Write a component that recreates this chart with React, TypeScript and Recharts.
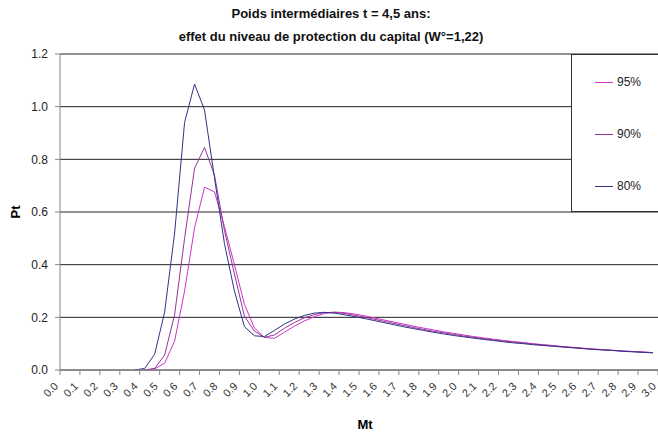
import { CartesianGrid, Label, Legend, Line, LineChart, XAxis, YAxis } from "recharts";

// Mt values of the sampled points
const mt = [
  0.375, 0.425, 0.475, 0.525, 0.575, 0.625, 0.675, 0.725, 0.775, 0.825,
  0.875, 0.925, 0.975, 1.025, 1.075, 1.125, 1.175, 1.225, 1.275, 1.325,
  1.375, 1.425, 1.475, 1.525, 1.575, 1.625, 1.675, 1.725, 1.775, 1.825,
  1.875, 1.925, 1.975, 2.025, 2.075, 2.125, 2.175, 2.225, 2.275, 2.325,
  2.375, 2.425, 2.475, 2.525, 2.575, 2.625, 2.675, 2.725, 2.775, 2.825,
  2.875, 2.925, 2.975,
];

const p80 = [
  0, 0.006, 0.06, 0.22, 0.52, 0.94, 1.086, 0.987, 0.73, 0.48,
  0.3, 0.165, 0.13, 0.127, 0.15, 0.174, 0.193, 0.207, 0.216, 0.219,
  0.216, 0.21, 0.203, 0.196, 0.188, 0.18, 0.172, 0.164, 0.157, 0.15,
  0.143, 0.137, 0.131, 0.126, 0.121, 0.116, 0.112, 0.107, 0.103, 0.1,
  0.096, 0.093, 0.09, 0.087, 0.084, 0.081, 0.078, 0.076, 0.074, 0.071,
  0.069, 0.067, 0.065,
];

const p90 = [
  null, 0, 0.006, 0.057, 0.21, 0.5, 0.766, 0.845, 0.74, 0.53,
  0.365, 0.205, 0.148, 0.124, 0.133, 0.158, 0.18, 0.198, 0.21, 0.218,
  0.219, 0.215, 0.208, 0.201, 0.193, 0.185, 0.177, 0.169, 0.161, 0.154,
  0.147, 0.141, 0.135, 0.129, 0.124, 0.119, 0.114, 0.11, 0.106, 0.102,
  0.098, 0.095, 0.091, 0.088, 0.085, 0.082, 0.079, 0.077, 0.074, 0.072,
  0.07, 0.068, 0.066,
];

const p95 = [
  null, 0, 0.004, 0.026, 0.11, 0.3, 0.54, 0.694, 0.677, 0.545,
  0.4, 0.25, 0.16, 0.124, 0.12, 0.143, 0.166, 0.186, 0.202, 0.214,
  0.22, 0.218, 0.213, 0.206, 0.198, 0.19, 0.182, 0.174, 0.166, 0.159,
  0.152, 0.145, 0.139, 0.133, 0.127, 0.122, 0.117, 0.112, 0.108, 0.104,
  0.1, 0.096, 0.093, 0.089, 0.086, 0.083, 0.08, 0.077, 0.075, 0.072,
  0.07, 0.068, 0.066,
];

const xTicks = [
  0, 0.1, 0.2, 0.3, 0.4, 0.5, 0.6, 0.7, 0.8, 0.9, 1, 1.1, 1.2, 1.3, 1.4, 1.5,
  1.6, 1.7, 1.8, 1.9, 2, 2.1, 2.2, 2.3, 2.4, 2.5, 2.6, 2.7, 2.8, 2.9, 3,
];
const yTicks = [0, 0.2, 0.4, 0.6, 0.8, 1, 1.2];

const series = [
  { key: "p95", name: "95%", color: "#CC33CC" },
  { key: "p90", name: "90%", color: "#993399" },
  { key: "p80", name: "80%", color: "#333388" },
];

const data = mt.map((x, i) => ({ x, p80: p80[i], p90: p90[i], p95: p95[i] }));

const FONT = "Arial, 'Liberation Sans', sans-serif";

const XTick = ({ x, y, payload }: any) => (
  <g transform={`translate(${x - 4},${y + 3})`}>
    <text
      x={0}
      y={0}
      dy={4}
      textAnchor="end"
      transform="rotate(-45)"
      fontSize={11}
      fontFamily={FONT}
      fill="#333"
    >
      {payload.value.toFixed(1)}
    </text>
  </g>
);

const renderLegend = () => (
  <div
    style={{
      width: 87,
      height: 158,
      boxSizing: "border-box",
      border: "1px solid #333",
      borderRight: "none",
      background: "#fff",
      position: "relative",
    }}
  >
    {series.map((s, i) => (
      <div
        key={s.key}
        style={{
          position: "absolute",
          left: 23,
          top: 20 + i * 52,
          display: "flex",
          alignItems: "center",
          fontSize: 12,
          fontFamily: FONT,
          color: "#222",
        }}
      >
        <span
          style={{ display: "inline-block", width: 18, height: 1, background: s.color, marginRight: 4 }}
        />
        {s.name}
      </div>
    ))}
  </div>
);

const App = () => {
  return (
    <div style={{ position: "absolute", left: 0, top: 0, width: 658, height: 436, background: "#fff" }}>
      <div
        style={{
          position: "absolute",
          top: 2,
          left: 0,
          width: 662,
          textAlign: "center",
          fontFamily: FONT,
          fontWeight: "bold",
          fontSize: 13,
          lineHeight: "23px",
          color: "#111",
        }}
      >
        Poids intermédiaires t = 4,5 ans:
        <br />
        effet du niveau de protection du capital (W°=1,22)
      </div>
      <LineChart
        width={658}
        height={436}
        data={data}
        margin={{ top: 54, right: 0, bottom: 0, left: 0 }}
      >
        <CartesianGrid vertical={false} stroke="#222" />
        <XAxis
          type="number"
          dataKey="x"
          domain={[0, 3]}
          ticks={xTicks}
          interval={0}
          height={66}
          tick={<XTick />}
          tickSize={5}
          tickMargin={6}
          stroke="#888"
        >
          <Label
            content={() => (
              <text x={365} y={424} textAnchor="middle" dominantBaseline="central" fontFamily={FONT} fontWeight="bold" fontSize={13}>
                Mt
              </text>
            )}
          />
        </XAxis>
        <YAxis
          domain={[0, 1.2]}
          ticks={yTicks}
          width={60}
          tickSize={5}
          tickMargin={7}
          stroke="#888"
          tickFormatter={(v: number) => v.toFixed(1)}
          tick={{ fontSize: 12, fontFamily: FONT, fill: "#222" }}
        >
          <Label
            content={() => (
              <text
                x={15}
                y={212}
                transform="rotate(-90 15 212)"
                textAnchor="middle"
                dominantBaseline="central"
                fontFamily={FONT}
                fontWeight="bold"
                fontSize={13}
              >
                Pt
              </text>
            )}
          />
        </YAxis>
        <Legend
          layout="horizontal"
          align="center"
          verticalAlign="middle"
          content={renderLegend}
          wrapperStyle={{ left: 571, top: 54, width: 87, height: 158 }}
        />
        {series.map((s) => (
          <Line
            key={s.key}
            type="linear"
            dataKey={s.key}
            name={s.name}
            stroke={s.color}
            strokeWidth={1}
            dot={false}
            activeDot={false}
            isAnimationActive={false}
          />
        ))}
      </LineChart>
    </div>
  );
};

export default App;
